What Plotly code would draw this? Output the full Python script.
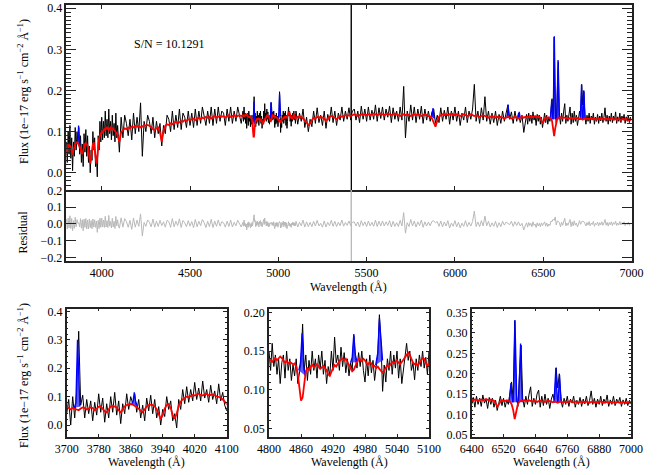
import numpy as np
import plotly.graph_objects as go

# ---------------- data ----------------
# wavelength grid segments (Angstrom)
wave_a = list(range(3700, 4100, 5))    # 80
wave_b = list(range(4100, 4800, 10))   # 70
wave_c = list(range(4800, 5100, 3))    # 100
wave_d = list(range(5100, 6400, 10))   # 130
wave_e = list(range(6400, 7001, 6))    # 101

flux_a = [0.040, 0.090, 0.000, 0.100, 0.025, 0.120, 0.330, 0.070, 0.105, 0.025,
          0.090, 0.040, 0.085, 0.015, 0.080, 0.035, 0.110, 0.045, 0.095, 0.010,
          0.075, 0.025, 0.100, 0.045, 0.115, 0.035, 0.085, 0.005, 0.075, 0.040,
          0.110, 0.055, 0.100, 0.075, 0.110, 0.045, 0.090, 0.025, 0.070, 0.015,
          0.095, 0.050, 0.105, 0.040, 0.090, 0.025, 0.065, 0.000, 0.055, 0.030,
          0.100, 0.055, 0.085, 0.015, 0.040, -0.010, 0.090, 0.055, 0.125, 0.075,
          0.135, 0.080, 0.125, 0.085, 0.150, 0.090, 0.130, 0.085, 0.155, 0.095,
          0.125, 0.080, 0.140, 0.090, 0.120, 0.075, 0.145, 0.085, 0.115, 0.070]
model_a = [0.065, 0.060, 0.055, 0.060, 0.058, 0.055, 0.052, 0.058, 0.062, 0.060,
           0.055, 0.058, 0.062, 0.060, 0.052, 0.058, 0.064, 0.066, 0.058, 0.048,
           0.045, 0.055, 0.065, 0.068, 0.066, 0.062, 0.052, 0.045, 0.055, 0.066,
           0.070, 0.072, 0.074, 0.072, 0.068, 0.062, 0.058, 0.050, 0.045, 0.055,
           0.066, 0.070, 0.072, 0.070, 0.066, 0.055, 0.035, 0.022, 0.035, 0.058,
           0.070, 0.074, 0.060, 0.035, 0.022, 0.040, 0.068, 0.082, 0.090, 0.095,
           0.100, 0.098, 0.102, 0.106, 0.104, 0.108, 0.110, 0.106, 0.104, 0.108,
           0.110, 0.104, 0.106, 0.108, 0.104, 0.102, 0.100, 0.096, 0.090, 0.082]

flux_b = [0.050, 0.135, 0.085, 0.140, 0.120, 0.090, 0.130, 0.080, 0.145, 0.095,
          0.135, 0.100, 0.170, 0.040, 0.125, 0.100, 0.140, 0.125, 0.095, 0.135,
          0.085, 0.125, 0.095, 0.120, 0.065, 0.115, 0.095, 0.140, 0.130, 0.100,
          0.150, 0.105, 0.140, 0.110, 0.155, 0.105, 0.145, 0.135, 0.110, 0.150,
          0.115, 0.145, 0.110, 0.155, 0.115, 0.150, 0.120, 0.160, 0.140, 0.115,
          0.150, 0.120, 0.160, 0.115, 0.155, 0.120, 0.160, 0.125, 0.150, 0.145,
          0.115, 0.155, 0.125, 0.160, 0.120, 0.150, 0.125, 0.160, 0.140, 0.120]
model_b = [0.075, 0.098, 0.104, 0.108, 0.106, 0.110, 0.108, 0.112, 0.110, 0.114,
           0.112, 0.114, 0.110, 0.112, 0.116, 0.114, 0.116, 0.114, 0.112, 0.106,
           0.104, 0.108, 0.110, 0.098, 0.075, 0.102, 0.114, 0.118, 0.116, 0.120,
           0.118, 0.122, 0.124, 0.120, 0.124, 0.126, 0.124, 0.128, 0.126, 0.130,
           0.128, 0.130, 0.132, 0.128, 0.132, 0.134, 0.130, 0.134, 0.132, 0.136,
           0.134, 0.136, 0.132, 0.136, 0.138, 0.134, 0.136, 0.138, 0.136, 0.138,
           0.134, 0.138, 0.140, 0.136, 0.138, 0.140, 0.136, 0.138, 0.140, 0.138]

flux_c = [0.150, 0.125, 0.160, 0.130, 0.145, 0.120, 0.140, 0.108, 0.135, 0.145,
          0.115, 0.150, 0.125, 0.140, 0.112, 0.132, 0.118, 0.140, 0.108, 0.125,
          0.135, 0.185, 0.125, 0.145, 0.112, 0.138, 0.120, 0.150, 0.125, 0.140,
          0.115, 0.145, 0.128, 0.150, 0.120, 0.138, 0.108, 0.130, 0.118, 0.150,
          0.125, 0.168, 0.135, 0.145, 0.125, 0.155, 0.130, 0.148, 0.122, 0.140,
          0.118, 0.135, 0.125, 0.170, 0.140, 0.128, 0.148, 0.130, 0.150, 0.125,
          0.110, 0.140, 0.118, 0.145, 0.122, 0.138, 0.112, 0.130, 0.145, 0.197,
          0.160, 0.098, 0.132, 0.110, 0.140, 0.125, 0.150, 0.120, 0.145, 0.128,
          0.150, 0.115, 0.140, 0.108, 0.125, 0.140, 0.160, 0.138, 0.150, 0.125,
          0.135, 0.113, 0.140, 0.125, 0.145, 0.130, 0.150, 0.128, 0.142, 0.120]
model_c = [0.140, 0.138, 0.136, 0.139, 0.141, 0.138, 0.140, 0.143, 0.141, 0.137,
           0.135, 0.137, 0.134, 0.136, 0.135, 0.133, 0.134, 0.130, 0.120, 0.100,
           0.086, 0.090, 0.110, 0.124, 0.128, 0.126, 0.130, 0.132, 0.129, 0.131,
           0.133, 0.130, 0.127, 0.129, 0.131, 0.128, 0.125, 0.120, 0.118, 0.123,
           0.128, 0.132, 0.130, 0.134, 0.137, 0.139, 0.140, 0.138, 0.140, 0.136,
           0.132, 0.128, 0.124, 0.126, 0.131, 0.136, 0.140, 0.139, 0.137, 0.140,
           0.138, 0.134, 0.133, 0.136, 0.134, 0.130, 0.131, 0.128, 0.130, 0.127,
           0.124, 0.122, 0.125, 0.129, 0.132, 0.130, 0.133, 0.136, 0.134, 0.136,
           0.138, 0.135, 0.133, 0.136, 0.139, 0.142, 0.146, 0.148, 0.145, 0.139,
           0.135, 0.133, 0.134, 0.131, 0.134, 0.138, 0.141, 0.140, 0.136, 0.130]

flux_d = [0.150, 0.118, 0.145, 0.125, 0.155, 0.110, 0.135, 0.100, 0.130, 0.112,
          0.150, 0.120, 0.158, 0.122, 0.140, 0.115, 0.150, 0.108, 0.142, 0.125,
          0.160, 0.122, 0.150, 0.115, 0.145, 0.128, 0.160, 0.125, 0.150, 0.130,
          0.158, 0.128, 0.150, 0.155, 0.128, 0.150, 0.122, 0.162, 0.130, 0.155,
          0.125, 0.160, 0.128, 0.152, 0.130, 0.165, 0.125, 0.158, 0.132, 0.160,
          0.128, 0.155, 0.135, 0.162, 0.122, 0.158, 0.130, 0.150, 0.125, 0.160,
          0.128, 0.210, 0.085, 0.150, 0.125, 0.165, 0.128, 0.160, 0.122, 0.155,
          0.130, 0.162, 0.120, 0.155, 0.128, 0.150, 0.125, 0.148, 0.155, 0.120,
          0.140, 0.122, 0.158, 0.125, 0.152, 0.130, 0.160, 0.118, 0.150, 0.128,
          0.160, 0.125, 0.150, 0.115, 0.145, 0.128, 0.160, 0.122, 0.150, 0.130,
          0.155, 0.215, 0.125, 0.150, 0.120, 0.158, 0.128, 0.185, 0.125, 0.150,
          0.118, 0.145, 0.122, 0.150, 0.115, 0.142, 0.120, 0.150, 0.125, 0.145,
          0.165, 0.130, 0.148, 0.120, 0.150, 0.125, 0.145, 0.122, 0.140, 0.098]
model_d = [0.134, 0.136, 0.134, 0.136, 0.132, 0.128, 0.122, 0.116, 0.120, 0.128,
           0.134, 0.132, 0.136, 0.134, 0.136, 0.134, 0.132, 0.126, 0.132, 0.136,
           0.138, 0.136, 0.134, 0.130, 0.134, 0.138, 0.136, 0.138, 0.140, 0.138,
           0.140, 0.138, 0.140, 0.142, 0.140, 0.138, 0.140, 0.142, 0.140, 0.142,
           0.140, 0.142, 0.140, 0.142, 0.144, 0.142, 0.140, 0.142, 0.144, 0.142,
           0.140, 0.142, 0.144, 0.142, 0.140, 0.142, 0.144, 0.142, 0.140, 0.138,
           0.140, 0.142, 0.140, 0.142, 0.140, 0.138, 0.140, 0.142, 0.140, 0.142,
           0.140, 0.138, 0.140, 0.142, 0.140, 0.138, 0.136, 0.132, 0.122, 0.112,
           0.126, 0.136, 0.140, 0.142, 0.140, 0.142, 0.140, 0.142, 0.144, 0.142,
           0.140, 0.142, 0.140, 0.138, 0.140, 0.142, 0.140, 0.138, 0.140, 0.142,
           0.140, 0.138, 0.140, 0.138, 0.136, 0.138, 0.140, 0.138, 0.136, 0.134,
           0.136, 0.138, 0.136, 0.134, 0.136, 0.134, 0.136, 0.134, 0.132, 0.134,
           0.136, 0.134, 0.132, 0.134, 0.136, 0.134, 0.132, 0.134, 0.136, 0.134]

# bad-pixel column near 5413 A (spans the full height of both upper panels)
bad_wave = [5412.0, 5413.0, 5413.5, 5414.0]
bad_flux = [0.140, 0.408, -0.042, 0.140]
bad_model = [0.139, 0.139, 0.139, 0.139]
bad_resid = [0.001, 0.203, -0.221, 0.001]

flux_e = [0.130, 0.142, 0.118, 0.145, 0.125, 0.140, 0.120, 0.148, 0.128, 0.138,
          0.115, 0.142, 0.125, 0.140, 0.118, 0.135, 0.110, 0.128, 0.145, 0.122,
          0.140, 0.118, 0.135, 0.125, 0.150, 0.180, 0.140, 0.330, 0.150, 0.120,
          0.200, 0.270, 0.140, 0.118, 0.145, 0.125, 0.150, 0.168, 0.120, 0.140,
          0.125, 0.150, 0.160, 0.118, 0.145, 0.122, 0.150, 0.125, 0.140, 0.115,
          0.138, 0.150, 0.130, 0.215, 0.165, 0.200, 0.135, 0.118, 0.140, 0.125,
          0.145, 0.120, 0.138, 0.128, 0.145, 0.118, 0.135, 0.125, 0.142, 0.120,
          0.138, 0.126, 0.145, 0.122, 0.135, 0.158, 0.125, 0.140, 0.118, 0.138,
          0.125, 0.145, 0.122, 0.138, 0.128, 0.148, 0.120, 0.136, 0.125, 0.145,
          0.122, 0.138, 0.128, 0.142, 0.120, 0.136, 0.125, 0.140, 0.122, 0.135,
          0.128]
model_e = [0.136, 0.135, 0.137, 0.136, 0.134, 0.136, 0.137, 0.135, 0.136, 0.138,
           0.136, 0.135, 0.137, 0.136, 0.134, 0.128, 0.120, 0.124, 0.132, 0.135,
           0.134, 0.133, 0.135, 0.134, 0.132, 0.126, 0.112, 0.089, 0.108, 0.126,
           0.132, 0.134, 0.133, 0.135, 0.134, 0.133, 0.135, 0.134, 0.132, 0.134,
           0.133, 0.131, 0.133, 0.134, 0.132, 0.133, 0.131, 0.132, 0.134, 0.133,
           0.131, 0.130, 0.132, 0.131, 0.129, 0.131, 0.132, 0.130, 0.131, 0.132,
           0.130, 0.131, 0.133, 0.131, 0.130, 0.132, 0.131, 0.129, 0.131, 0.132,
           0.130, 0.131, 0.132, 0.130, 0.129, 0.131, 0.132, 0.130, 0.131, 0.129,
           0.130, 0.132, 0.131, 0.129, 0.130, 0.131, 0.129, 0.130, 0.131, 0.130,
           0.128, 0.130, 0.131, 0.129, 0.130, 0.131, 0.129, 0.128, 0.130, 0.129,
           0.128]

# emission-line (gas) contribution at grid pixels, used for the residual
gas_at_pixel = {3725: 0.060, 3730: 0.240, 3870: 0.035, 4863: 0.040, 4959: 0.035,
                5007: 0.055, 5010: 0.030, 5880: 0.015, 6300: 0.025, 6550: 0.040,
                6562: 0.220, 6580: 0.050, 6586: 0.120, 6718: 0.070, 6724: 0.020,
                6730: 0.055}

# emission-line fits (blue): wavelengths and flux per line
lines_wave = {
    "[OII]3727":  [3719, 3723, 3727, 3730, 3733],
    "[NeIII]3869": [3862, 3866, 3869, 3872, 3876],
    "Hb":         [4856, 4859, 4862, 4865, 4868],
    "[OIII]4959": [4953, 4956, 4959, 4962, 4965],
    "[OIII]5007": [5000, 5004, 5007, 5010, 5013],
    "HeI5876":    [5870, 5874, 5876, 5879, 5883],
    "[OI]6300":   [6294, 6298, 6301, 6304, 6308],
    "[OI]6363":   [6358, 6361, 6364, 6367, 6370],
    "[NII]6548":  [6541, 6545, 6548, 6551, 6555],
    "Ha":         [6556, 6560, 6563, 6566, 6570],
    "[NII]6584":  [6577, 6581, 6584, 6587, 6591],
    "[SII]6717":  [6710, 6714, 6717, 6720, 6724],
    "[SII]6731":  [6725, 6728, 6731, 6734, 6738],
}
lines_flux = {
    "[OII]3727":  [0.060, 0.080, 0.300, 0.160, 0.065],
    "[NeIII]3869": [0.072, 0.085, 0.115, 0.085, 0.068],
    "Hb":         [0.125, 0.135, 0.173, 0.130, 0.118],
    "[OIII]4959": [0.135, 0.142, 0.172, 0.145, 0.136],
    "[OIII]5007": [0.132, 0.148, 0.192, 0.170, 0.138],
    "HeI5876":    [0.135, 0.145, 0.157, 0.145, 0.132],
    "[OI]6300":   [0.134, 0.145, 0.166, 0.145, 0.133],
    "[OI]6363":   [0.133, 0.140, 0.148, 0.140, 0.132],
    "[NII]6548":  [0.130, 0.150, 0.177, 0.150, 0.130],
    "Ha":         [0.130, 0.200, 0.332, 0.210, 0.130],
    "[NII]6584":  [0.130, 0.190, 0.274, 0.190, 0.130],
    "[SII]6717":  [0.130, 0.165, 0.214, 0.165, 0.130],
    "[SII]6731":  [0.130, 0.160, 0.197, 0.160, 0.130],
}

sn_text = "S/N = 10.1291"

# ---------------- assemble ----------------
grid_wave = np.array(wave_a + wave_b + wave_c + wave_d + wave_e, dtype=float)
grid_flux = np.array(flux_a + flux_b + flux_c + flux_d + flux_e)
grid_model = np.array(model_a + model_b + model_c + model_d + model_e)
grid_gas = np.array([gas_at_pixel.get(int(w), 0.0) for w in grid_wave])
grid_resid = grid_flux - grid_model - grid_gas

wave = np.concatenate([grid_wave, bad_wave])
flux = np.concatenate([grid_flux, bad_flux])
model = np.concatenate([grid_model, bad_model])
resid = np.concatenate([grid_resid, bad_resid])
order = np.argsort(wave, kind="stable")
wave, flux, model, resid = wave[order], flux[order], model[order], resid[order]

FONT = "Liberation Serif"
W, H = 664, 475


def px(x):
    return x / W


def py(y):
    return 1 - y / H


fig = go.Figure()

panels = {
    "main": ("x", "y", 3800, 7000),
    "p1": ("x3", "y3", 3700, 4100),
    "p2": ("x4", "y4", 4800, 5100),
    "p3": ("x5", "y5", 6400, 7000),
}

for key in ["main", "p1", "p2", "p3"]:
    xa, ya, lo, hi = panels[key]
    fig.add_trace(go.Scatter(x=wave, y=flux, mode="lines", xaxis=xa, yaxis=ya,
                             line=dict(color="black", width=1), hoverinfo="skip"))
    for name in lines_wave:
        lw = lines_wave[name]
        if lw[-1] < lo or lw[0] > hi:
            continue
        fig.add_trace(go.Scatter(x=lw, y=lines_flux[name], mode="lines",
                                 xaxis=xa, yaxis=ya, fill="toself",
                                 fillcolor="rgba(40,40,255,0.75)",
                                 line=dict(color="blue", width=1.3), hoverinfo="skip"))
    fig.add_trace(go.Scatter(x=wave, y=model, mode="lines", xaxis=xa, yaxis=ya,
                             line=dict(color="red", width=1.8), hoverinfo="skip"))

fig.add_trace(go.Scatter(x=wave, y=resid, mode="lines", xaxis="x2", yaxis="y2",
                         line=dict(color="#b8b8b8", width=1), hoverinfo="skip"))


def ax(**kw):
    d = dict(showline=True, linecolor="#222", linewidth=1.5, mirror="allticks",
             ticks="inside", tickcolor="#222", tickwidth=1, showgrid=False,
             zeroline=False, automargin=False,
             tickfont=dict(family=FONT, size=12, color="black"))
    d.update(kw)
    return d


def yminor(dt, ln):
    return dict(dtick=dt, tick0=0, ticks="inside", ticklen=ln, tickcolor="#222",
                showgrid=False)


main_xd = [px(66.4), px(631.5)]
fig.update_layout(
    template="none",
    xaxis=ax(domain=main_xd, range=[3800, 7000], anchor="y", dtick=500, tick0=0,
             ticklen=4, showticklabels=False),
    yaxis=ax(domain=[py(190), py(5)], range=[-0.042, 0.408], anchor="x", dtick=0.1,
             tick0=0, ticklen=10, tickformat=".1f", minor=yminor(0.01, 5)),
    xaxis2=ax(domain=main_xd, range=[3800, 7000], anchor="y2", dtick=500, tick0=0,
              ticklen=4, mirror=False),
    yaxis2=ax(domain=[py(261), py(190)], range=[-0.221, 0.203], anchor="x2", dtick=0.1,
              tick0=0, ticklen=10, tickformat=".1f"),
    xaxis3=ax(domain=[px(66.7), px(226.7)], range=[3700, 4100], anchor="y3", dtick=80,
              tick0=3700, ticklen=3),
    yaxis3=ax(domain=[py(437), py(308.5)], range=[-0.042, 0.41], anchor="x3", dtick=0.1,
              tick0=0, ticklen=3.5, tickformat=".1f", minor=yminor(0.02, 1.8)),
    xaxis4=ax(domain=[px(269), px(429)], range=[4800, 5100], anchor="y4", dtick=60,
              tick0=4800, ticklen=3),
    yaxis4=ax(domain=[py(437), py(308.5)], range=[0.039, 0.205], anchor="x4", dtick=0.05,
              tick0=0, ticklen=3.5, tickformat=".2f", minor=yminor(0.01, 1.8)),
    xaxis5=ax(domain=[px(471.7), px(631)], range=[6400, 7000], anchor="y5", dtick=120,
              tick0=6400, ticklen=3),
    yaxis5=ax(domain=[py(437), py(308.5)], range=[0.045, 0.36], anchor="x5", dtick=0.05,
              tick0=0, ticklen=3.5, tickformat=".2f", minor=yminor(0.01, 1.8)),
)

ann_font = dict(family=FONT, size=12, color="black")
flux_title = ("Flux (1e\u221217 erg s<sup>\u22121</sup> cm<sup>\u22122</sup> "
              "\u00c5<sup>\u22121</sup>)")
annotations = [
    dict(text=sn_text, x=px(169), y=py(43.5)),
    dict(text=flux_title, x=px(23), y=py(92), textangle=-90),
    dict(text="Residual", x=px(22.5), y=py(232), textangle=-90),
    dict(text="Wavelength (\u00c5)", x=px(348), y=py(287)),
    dict(text=flux_title, x=px(23), y=py(376), textangle=-90),
    dict(text="Wavelength (\u00c5)", x=px(146.7), y=py(462)),
    dict(text="Wavelength (\u00c5)", x=px(349), y=py(462)),
    dict(text="Wavelength (\u00c5)", x=px(551.3), y=py(462)),
]
for a in annotations:
    a.update(xref="paper", yref="paper", showarrow=False, font=ann_font,
             xanchor="center", yanchor="middle")

fig.update_layout(width=W, height=H, margin=dict(l=0, r=0, t=0, b=0, pad=0),
                  paper_bgcolor="white", plot_bgcolor="white", showlegend=False,
                  font=dict(family=FONT, size=12, color="black"),
                  annotations=annotations)

fig.write_html("out.html", config={"displayModeBar": False},
               post_script="document.body.style.margin='0px';"
                           "document.body.style.overflow='hidden';")
